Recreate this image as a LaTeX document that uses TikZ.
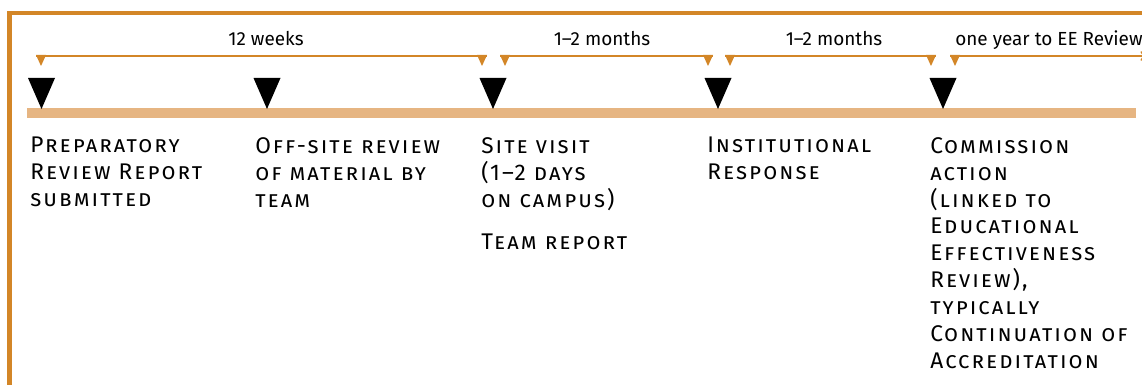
\documentclass[tikz,border=0pt]{standalone}
\usepackage{fontspec}
\setmainfont{Fira Sans}
\newfontfamily\stagefont{Fira Sans}[Letters=SmallCaps, LetterSpace=9]
\usetikzlibrary{arrows}

\definecolor{frameorange}{RGB}{211,134,39}
\definecolor{barorange}{RGB}{230,181,130}

\tikzset{
  stagetext/.style={anchor=north west, align=left, inner sep=0pt,
    font=\stagefont\fontsize{17}{20.2}\selectfont},
  spanlabel/.style={inner sep=0pt, font=\fontsize{14.2}{16}\selectfont},
  spanline/.style={frameorange, line width=1.6pt}
}

\begin{document}
\begin{tikzpicture}[x=0.75pt, y=-0.75pt]
    \useasboundingbox (0,0) rectangle (1142,385);

    % Frame (top and left edges only)
    \draw[frameorange, line width=3.7pt, line join=miter] (1150,13) -- (9.8,13) -- (9.8,392);

    % Timeline bar
    \fill[barorange] (27,108) rectangle (1136,118);

    % Stage markers
    \fill (28,78) -- (55,78) -- (41.5,109) -- cycle;
    \fill (253.5,78) -- (280.5,78) -- (267,109) -- cycle;
    \fill (479.5,78) -- (506.5,78) -- (493,109) -- cycle;
    \fill (704.5,78) -- (731.5,78) -- (718,109) -- cycle;
    \fill (929.5,78) -- (956.5,78) -- (943,109) -- cycle;

    % Interval ends
    \coordinate (sp1a) at (36,56);  \coordinate (sp1b) at (487,56);
    \coordinate (sp2a) at (500,56); \coordinate (sp2b) at (713,56);
    \coordinate (sp3a) at (725,56); \coordinate (sp3b) at (936,56);
    \coordinate (sp4a) at (950,56); \coordinate (sp4b) at (1146,56);

    % Interval spans
    \draw[spanline] (sp1a) -- (sp1b);
    \draw[spanline] (sp2a) -- (sp2b);
    \draw[spanline] (sp3a) -- (sp3b);
    \draw[spanline, ->] (sp4a) -- (sp4b);

    % Small end marks
    \fill[frameorange] (36,55) -- (46,55) -- (41,66) -- cycle;
    \fill[frameorange] (477,55) -- (487,55) -- (482,66) -- cycle;
    \fill[frameorange] (500,55) -- (510,55) -- (505,66) -- cycle;
    \fill[frameorange] (703,55) -- (713,55) -- (708,66) -- cycle;
    \fill[frameorange] (725,55) -- (735,55) -- (730,66) -- cycle;
    \fill[frameorange] (926,55) -- (936,55) -- (931,66) -- cycle;
    \fill[frameorange] (950,55) -- (960,55) -- (955,66) -- cycle;

    % Interval labels
    \node[spanlabel, anchor=base] (weeks) at (266,46) {12 weeks};
    \node[spanlabel, anchor=base] (months1) at (602,46) {1–2 months};
    \node[spanlabel, anchor=base] (months2) at (834,46) {1–2 months};
    \node[spanlabel, anchor=base west] (eereview) at (955,46) {one year to EE Review};

    % Stage descriptions
    \node[stagetext] (prep) at (30,137) {Preparatory\\Review Report\\submitted};
    \node[stagetext] (offsite) at (255,137) {Off-site review\\of material by\\team};
    \node[stagetext] (visit) at (481,137) {Site visit\\(1–2 days\\on campus)};
    \node[stagetext] (teamrep) at (481,234) {Team report};
    \node[stagetext] (response) at (707,137) {Institutional\\Response};
    \node[stagetext] (commission) at (930,137) {Commission\\action\\(linked to\\Educational\\Effectiveness\\Review),\\typically\\Continuation of\\Accreditation};
\end{tikzpicture}
\end{document}
